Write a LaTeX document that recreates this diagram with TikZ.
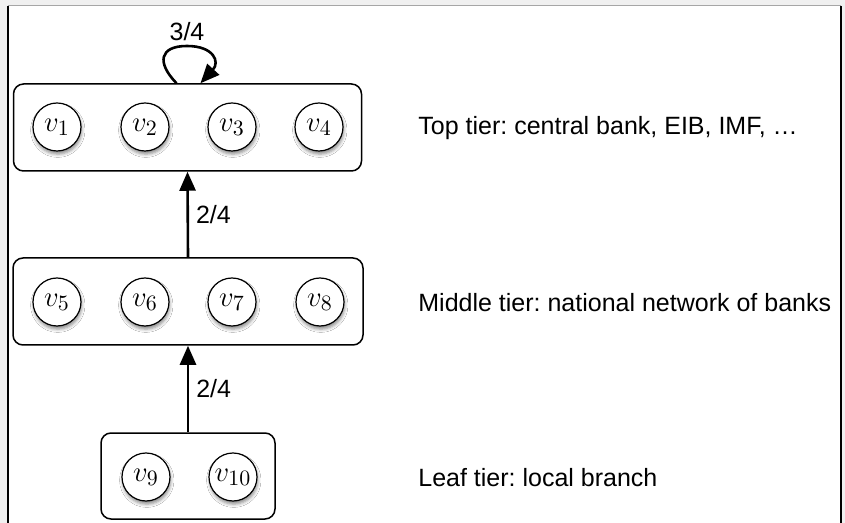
\documentclass[tikz,border=0pt]{standalone}
\usepackage{fontspec}
\setmainfont{Liberation Sans}
\usetikzlibrary{arrows.meta,shadows.blur,calc}
\frenchspacing

\tikzset{
  tierbox/.style={draw=black, line width=0.75pt, rounded corners=5pt,
    minimum height=43.5pt, inner sep=0pt},
  bank/.style={circle, draw=black, line width=0.6pt, fill=white,
    minimum size=24pt, inner sep=0pt,
    font=\fontsize{15}{17}\selectfont,
    blur shadow={shadow xshift=0.4pt, shadow yshift=-1.6pt,
      shadow blur radius=1.6pt, shadow opacity=45}},
  tiertext/.style={anchor=west, inner sep=0pt,
    font=\fontsize{12.5}{15}\selectfont},
  flowlabel/.style={inner sep=0pt, font=\fontsize{12.5}{15}\selectfont},
  flow/.style={line width=1.3pt,
    -{Triangle[length=9.5pt,width=8pt]}},
}

\begin{document}
\begin{tikzpicture}[x=0.5pt,y=-0.5pt]
  \useasboundingbox (0,0) rectangle (845,523);
  % panel background and frame
  \fill[gray!12] (0,0) rectangle (845,523);
  \fill[white] (8,6) rectangle (841,523);
  \draw[gray!70, line width=0.5pt] (8,6) -- (841,6);
  \draw[black, line width=1pt] (8,6) -- (8,523);
  \draw[black, line width=1pt] (841,6) -- (841,523);

  % tier containers
  \node[tierbox, minimum width=174pt] (top) at (187.5,127.5) {};
  \node[tierbox, minimum width=175pt] (mid) at (188,301.5) {};
  \node[tierbox, minimum width=87pt, minimum height=43pt] (leaf) at (188,476) {};

  % banks
  \node[bank] (v1) at (57,127) {$v_1$};
  \node[bank] (v2) at (145,127) {$v_2$};
  \node[bank] (v3) at (232,127) {$v_3$};
  \node[bank] (v4) at (319,127) {$v_4$};
  \node[bank] (v5) at (57,302) {$v_5$};
  \node[bank] (v6) at (145,302) {$v_6$};
  \node[bank] (v7) at (232,302) {$v_7$};
  \node[bank] (v8) at (320,302) {$v_8$};
  \node[bank] (v9) at (146,477) {$v_9$};
  \node[bank] (v10) at (233,477) {$v_{10}$};

  % tier descriptions
  \node[tiertext] (ttop) at (418,128) {Top tier: central bank, EIB, IMF, …};
  \node[tiertext] (tmid) at (418,303) {Middle tier: national network of banks};
  \node[tiertext] (tleaf) at (418,478) {Leaf tier: local branch};

  % flows between tiers
  \draw[flow] (leaf.north) -- node[flowlabel, anchor=west, xshift=3.5pt] (l1) {2/4} (mid.south);
  \draw[flow] (mid.north) -- node[flowlabel, anchor=west, xshift=3.5pt] (l2) {2/4} (top.south);

  % self-loop on the top tier
  \coordinate (loopout) at ($(top.north)+(-11,0)$);
  \coordinate (loopin) at ($(top.north)+(13,0)$);
  \draw[flow] (loopout) .. controls (156,62) and (160,46) .. (187,46)
    .. controls (214,46) and (220,62) .. (loopin);
  \node[flowlabel] (l3) at (187,32) {3/4};
\end{tikzpicture}
\end{document}
